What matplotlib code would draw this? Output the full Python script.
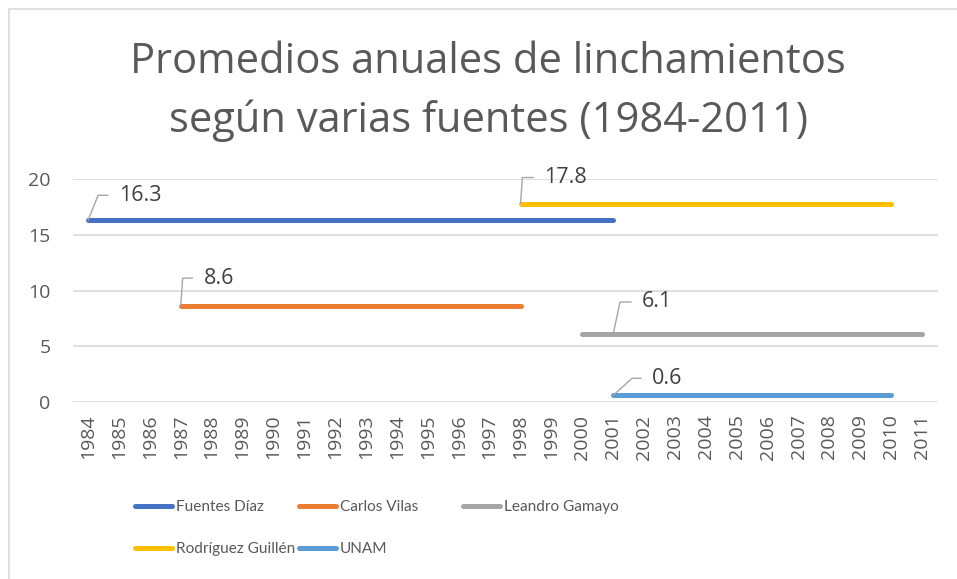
import numpy as np
import matplotlib
matplotlib.use("Agg")
import matplotlib.pyplot as plt
from matplotlib.lines import Line2D
from matplotlib.patches import Rectangle

plt.rcParams['font.family'] = ['Open Sans', 'DejaVu Sans']

years = list(range(1984, 2012))
nan = np.nan

# 1984 ... 2011
fuentes_diaz = [16.3, 16.3, 16.3, 16.3, 16.3, 16.3, 16.3, 16.3, 16.3, 16.3,
                16.3, 16.3, 16.3, 16.3, 16.3, 16.3, 16.3, 16.3, nan, nan,
                nan, nan, nan, nan, nan, nan, nan, nan]
carlos_vilas = [nan, nan, nan, 8.6, 8.6, 8.6, 8.6, 8.6, 8.6, 8.6,
                8.6, 8.6, 8.6, 8.6, 8.6, nan, nan, nan, nan, nan,
                nan, nan, nan, nan, nan, nan, nan, nan]
leandro_gamayo = [nan, nan, nan, nan, nan, nan, nan, nan, nan, nan,
                  nan, nan, nan, nan, nan, nan, 6.1, 6.1, 6.1, 6.1,
                  6.1, 6.1, 6.1, 6.1, 6.1, 6.1, 6.1, 6.1]
rodriguez_guillen = [nan, nan, nan, nan, nan, nan, nan, nan, nan, nan,
                     nan, nan, nan, nan, 17.8, 17.8, 17.8, 17.8, 17.8, 17.8,
                     17.8, 17.8, 17.8, 17.8, 17.8, 17.8, 17.8, nan]
unam = [nan, nan, nan, nan, nan, nan, nan, nan, nan, nan,
        nan, nan, nan, nan, nan, nan, nan, 0.6, 0.6, 0.6,
        0.6, 0.6, 0.6, 0.6, 0.6, 0.6, 0.6, nan]

series_names = ["Fuentes Díaz", "Carlos Vilas", "Leandro Gamayo",
                "Rodríguez Guillén", "UNAM"]
series_values = [fuentes_diaz, carlos_vilas, leandro_gamayo,
                 rodriguez_guillen, unam]
colors = ["#4472C4", "#ED7D31", "#A5A5A5", "#FFC000", "#5B9BD5"]

# data labels
label_year = [1984, 1987, 2001, 1998, 2001]
label_text = ["16.3", "8.6", "6.1", "17.8", "0.6"]
label_offsets = [(31, 25), (23, 28), (29, 32), (24, 26), (39, 17)]
leader_angles = [68, 86, 78, 86, 42]

title_lines = ["Promedios anuales de linchamientos",
               "según varias fuentes (1984-2011)"]

W, H = 957, 579
fig = plt.figure(figsize=(W / 100, H / 100), dpi=100)
fig.patch.set_facecolor("white")

# outer frame
fig.patches.append(Rectangle((8.5 / W, -0.1), 1.2, 1 - 9.5 / H + 0.1,
                             transform=fig.transFigure, fill=False,
                             edgecolor="#D9D9D9", lw=1.2))

ax = fig.add_axes([72.6 / W, 1 - 402 / H, 865 / W, 223 / H])
x = np.arange(len(years))

for vals, c in zip(series_values, colors):
    ax.plot(x, vals, color=c, lw=3.6, solid_capstyle="round", clip_on=False,
            zorder=3)

for i, (yr, txt, off, ang) in enumerate(zip(label_year, label_text,
                                             label_offsets, leader_angles)):
    idx = years.index(yr)
    val = series_values[i][idx]
    ax.annotate(txt, xy=(idx, val), xytext=off, textcoords="offset pixels",
                ha="left", va="center", fontsize=15.5, color="#404040",
                zorder=5,
                arrowprops=dict(arrowstyle="-", color="#A6A6A6", lw=1,
                                shrinkA=6, shrinkB=0, relpos=(0, 0.5),
                                connectionstyle=f"angle,angleA=0,angleB={ang},rad=0"))

ax.set_xlim(-0.5, len(years) - 0.5)
ax.set_ylim(0, 20)
ax.set_yticks([0, 5, 10, 15, 20])
ax.set_xticks(x)
ax.set_xticklabels([str(y) for y in years], rotation=90)
ax.tick_params(axis="both", length=0, labelsize=14, colors="#595959")
ax.tick_params(axis="y", pad=16)
ax.tick_params(axis="x", pad=9)
ax.grid(axis="y", color="#D9D9D9", lw=1.2, zorder=0)
ax.set_axisbelow(True)
for s in ax.spines.values():
    s.set_visible(False)

for line, base in zip(title_lines, [73, 132]):
    fig.text(488 / W, 1 - base / H, line, ha="center", va="baseline",
             fontsize=30, color="#595959")

# legend entries (Excel-style row layout)
legend_pos = [(135, 507), (299, 507), (463, 507), (135, 549), (299, 549)]
fs = 11.1
fs_px = fs * 100 / 72
for name, c, (px, py) in zip(series_names, colors, legend_pos):
    h = Line2D([], [], color=c, lw=3.6, solid_capstyle="round")
    fig.legend(handles=[h], labels=[name], loc="center left",
               bbox_to_anchor=(px / W, 1 - py / H), frameon=False,
               borderpad=0, borderaxespad=0, handlelength=37 / fs_px,
               handletextpad=4 / fs_px,
               prop={"family": ["Lato", "DejaVu Sans"], "size": fs},
               labelcolor="#595959")

fig.savefig("out.png", dpi=100)
